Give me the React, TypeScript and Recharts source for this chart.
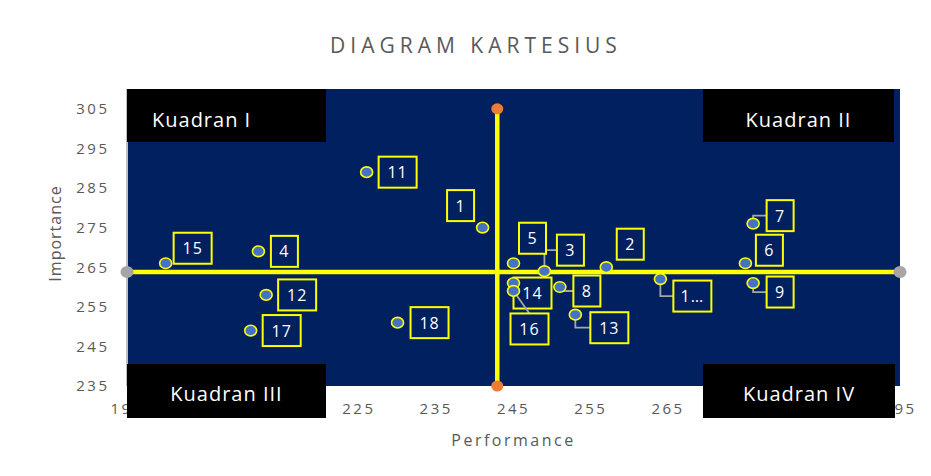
import React from 'react';
import { ScatterChart, Scatter, XAxis, YAxis, CartesianGrid } from 'recharts';

// attributes 1..18
const labels = ['1', '2', '3', '4', '5', '6', '7', '8', '9', '10', '11', '12', '13', '14', '15', '16', '17', '18'];
const performance = [241, 257, 249, 212, 245, 275, 276, 251, 276, 264, 226, 213, 253, 245, 200, 245, 211, 230];
const importance = [275, 265, 264, 269, 266, 266, 276, 260, 261, 262, 289, 258, 253, 261, 266, 259, 249, 251];

const xTicks = [195, 205, 215, 225, 235, 245, 255, 265, 275, 285, 295];
const yTicks = [235, 245, 255, 265, 275, 285, 295, 305];

// average lines that split the quadrants
const avgPerformance = 242.9;
const avgImportance = 263.8;

const quadrants = ['Kuadran I', 'Kuadran II', 'Kuadran III', 'Kuadran IV'];

const points = labels.map((name, i) => ({ name, x: performance[i], y: importance[i] }));
const hLine = [
  { x: xTicks[0], y: avgImportance },
  { x: xTicks[xTicks.length - 1], y: avgImportance },
];
const vLine = [
  { x: avgPerformance, y: yTicks[0] },
  { x: avgPerformance, y: yTicks[yTicks.length - 1] },
];

// where each data label box sits relative to its point (like dragged Excel labels)
const labelPos: Record<string, { dx: number; dy: number; leader?: 'elbow' | 'line'; text?: string }> = {
  '1': { dx: -22, dy: -22 },
  '2': { dx: 24, dy: -23 },
  '3': { dx: 26, dy: -21, leader: 'elbow' },
  '4': { dx: 26, dy: 0 },
  '5': { dx: 19, dy: -25 },
  '6': { dx: 24, dy: -13 },
  '7': { dx: 27, dy: -8, leader: 'elbow' },
  '8': { dx: 27, dy: 4, leader: 'elbow' },
  '9': { dx: 27, dy: 9, leader: 'elbow' },
  '10': { dx: 32, dy: 17, leader: 'elbow', text: '1…' },
  '11': { dx: 31, dy: 0 },
  '12': { dx: 31, dy: 0 },
  '13': { dx: 34, dy: 13, leader: 'elbow' },
  '14': { dx: 19, dy: 10 },
  '15': { dx: 27, dy: -15 },
  '16': { dx: 16, dy: 38, leader: 'line' },
  '17': { dx: 31, dy: 0 },
  '18': { dx: 32, dy: 0 },
};

const NAVY = '#002060';
const YELLOW = '#ffff00';
const GREY_TEXT = '#595959';

const Dot = (p: any) => (
  <ellipse cx={p.cx} cy={p.cy} rx={6} ry={5.3} fill="#4472c4" stroke={YELLOW} strokeWidth={1.6} />
);
const GreyEnd = (p: any) => <ellipse cx={p.cx} cy={p.cy} rx={6.5} ry={6} fill="#a5a5a5" />;
const OrangeEnd = (p: any) => <ellipse cx={p.cx} cy={p.cy} rx={6} ry={5.5} fill="#ed7d31" />;

const DataLabel = (p: any) => {
  const { cx, cy, payload } = p;
  const pos = labelPos[payload.name];
  const w = payload.name.length > 1 ? 38 : 27;
  const h = 31;
  const bx = cx + pos.dx;
  const by = cy + pos.dy;
  let leader = null;
  if (pos.leader === 'elbow') {
    leader = (
      <polyline points={`${cx},${cy} ${cx},${by} ${bx - w / 2},${by}`} fill="none" stroke="#a6a6a6" strokeWidth={1.8} />
    );
  } else if (pos.leader === 'line') {
    leader = <line x1={cx} y1={cy} x2={bx} y2={by - h / 2} stroke="#a6a6a6" strokeWidth={1.8} />;
  }
  return (
    <g>
      {leader}
      <rect x={bx - w / 2} y={by - h / 2} width={w} height={h} fill={NAVY} stroke={YELLOW} strokeWidth={2} />
      <text x={bx} y={by} textAnchor="middle" dominantBaseline="central" fill="#fff" fontSize={16} letterSpacing={1}>
        {pos.text ?? payload.name}
      </text>
    </g>
  );
};

const yTitle = (props: any) => {
  const { viewBox } = props;
  const x = viewBox.x + 7;
  const y = viewBox.y + viewBox.height / 2 - 4;
  return (
    <text x={x} y={y} transform={`rotate(-90 ${x} ${y})`} textAnchor="middle" dominantBaseline="central"
      fill={GREY_TEXT} fontSize={16} letterSpacing={1}>
      Importance
    </text>
  );
};

const xTitle = (props: any) => {
  const { viewBox } = props;
  return (
    <text x={viewBox.x + viewBox.width / 2} y={viewBox.y + 54} textAnchor="middle" dominantBaseline="central"
      fill={GREY_TEXT} fontSize={16} letterSpacing={2.5}>
      Performance
    </text>
  );
};

const boxStyle: React.CSSProperties = {
  position: 'absolute',
  background: '#000',
  color: '#fff',
  fontSize: 20,
  lineHeight: '20px',
  letterSpacing: 1,
  boxSizing: 'border-box',
  zIndex: 2,
  whiteSpace: 'nowrap',
};

export default function App() {
  return (
    <div style={{ position: 'relative', width: 915, height: 460, fontFamily: '"Open Sans", sans-serif' }}>
      <div style={{ position: 'absolute', left: -2, top: -8, width: 930, height: 476, borderLeft: '2px solid #d9d9d9' }} />
      <div style={{
        position: 'absolute', left: 318, top: 23, width: 300, textAlign: 'center', fontSize: 21,
        lineHeight: '28px', letterSpacing: 5, color: GREY_TEXT,
      }}>
        DIAGRAM KARTESIUS
      </div>

      <ScatterChart width={915} height={460} margin={{ top: 81, right: 23, bottom: 42, left: 40 }}>
        <CartesianGrid horizontal={false} vertical={false} fill={NAVY} stroke="none" />
        <XAxis type="number" dataKey="x" domain={[195, 295]} ticks={xTicks} interval={0} height={40}
          axisLine={false} tickLine={false} tickSize={0} tickMargin={17}
          tick={{ fill: GREY_TEXT, fontSize: 15, letterSpacing: 2.5 }} label={xTitle} />
        <YAxis type="number" dataKey="y" domain={[235, 310]} ticks={yTicks} interval={0} width={79}
          axisLine={{ stroke: '#bfbfbf', strokeWidth: 2 }} tickLine={false} tickSize={0} tickMargin={17.5}
          tick={{ fill: GREY_TEXT, fontSize: 15, letterSpacing: 2.5 }} label={yTitle} />
        <Scatter data={hLine} line={{ stroke: YELLOW, strokeWidth: 4.5 }} shape={GreyEnd} isAnimationActive={false} />
        <Scatter data={vLine} line={{ stroke: YELLOW, strokeWidth: 4.5 }} shape={OrangeEnd} isAnimationActive={false} />
        <Scatter data={points} shape={DataLabel} isAnimationActive={false} />
        <Scatter data={points} shape={Dot} isAnimationActive={false} />
      </ScatterChart>

      <div style={{ ...boxStyle, left: 119, top: 81, width: 199, height: 53, paddingLeft: 25, paddingTop: 21 }}>
        {quadrants[0]}
      </div>
      <div style={{ ...boxStyle, left: 695, top: 81, width: 191, height: 53, paddingTop: 21, textAlign: 'center' }}>
        {quadrants[1]}
      </div>
      <div style={{ ...boxStyle, left: 119, top: 356, width: 199, height: 54, paddingTop: 20, textAlign: 'center' }}>
        {quadrants[2]}
      </div>
      <div style={{ ...boxStyle, left: 695, top: 356, width: 192, height: 54, paddingTop: 20, textAlign: 'center' }}>
        {quadrants[3]}
      </div>
    </div>
  );
}
